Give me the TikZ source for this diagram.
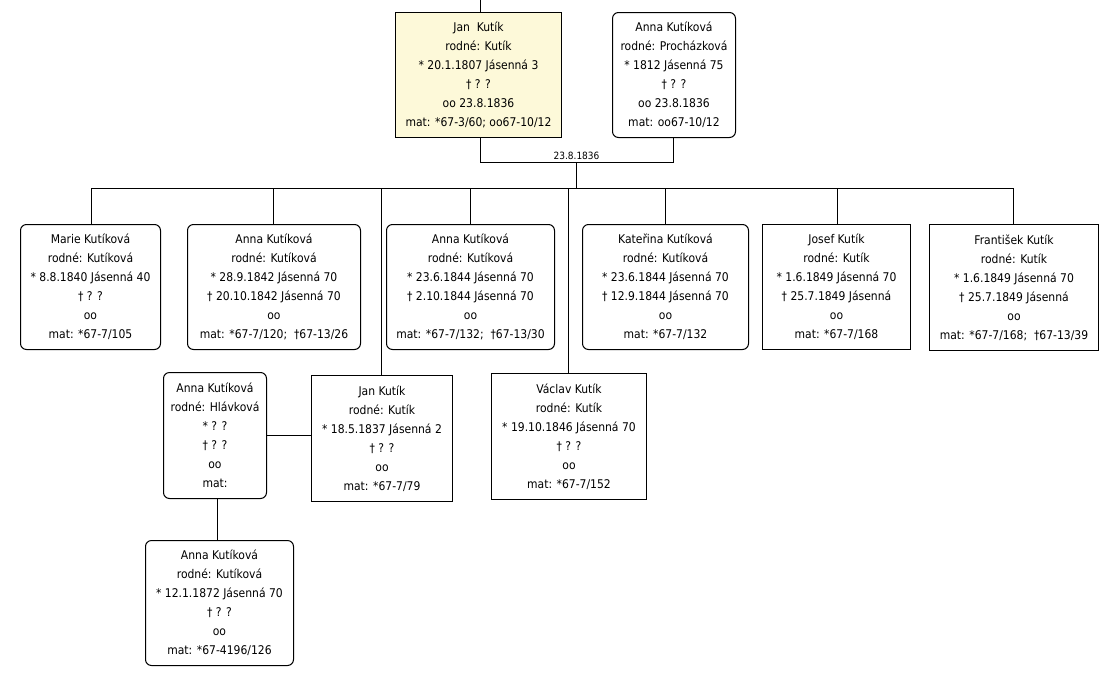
\documentclass[tikz,border=0pt]{standalone}
\usepackage{fontspec}
\setmainfont{DejaVu Sans Condensed}
\definecolor{janfill}{RGB}{253,249,217}
\tikzset{
  person/.style={draw, line width=1pt, inner sep=0pt, align=center, anchor=north west,
    font=\fontsize{12}{19}\selectfont},
  fem/.style={person, rounded corners=6pt},
  male/.style={person},
  link/.style={line width=1pt},
  datelabel/.style={font=\fontsize{10}{11}\selectfont, inner sep=0pt}
}
\begin{document}
\begin{tikzpicture}[x=1pt,y=-1pt]
\useasboundingbox (0,0) rectangle (1119,686);
% parents
\node[male, fill=janfill, minimum width=166pt, minimum height=125pt] (jan) at (395,12)
  {Jan\ \ Kutík\\rodné: Kutík\\* 20.1.1807 Jásenná 3\\† ? ?\\oo 23.8.1836\\mat: *67-3/60; oo67-10/12};
\node[fem, minimum width=123pt, minimum height=125pt] (anna) at (612,12)
  {Anna Kutíková\\rodné: Procházková\\* 1812 Jásenná 75\\† ? ?\\oo 23.8.1836\\mat: oo67-10/12};
% children row
\node[fem, minimum width=140pt, minimum height=125pt] (marie) at (20,224)
  {Marie Kutíková\\rodné: Kutíková\\* 8.8.1840 Jásenná 40\\† ? ?\\oo\\mat: *67-7/105};
\node[fem, minimum width=173pt, minimum height=125pt] (annaa) at (187,224)
  {Anna Kutíková\\rodné: Kutíková\\* 28.9.1842 Jásenná 70\\† 20.10.1842 Jásenná 70\\oo\\mat: *67-7/120;\ \ †67-13/26};
\node[fem, minimum width=168pt, minimum height=125pt] (annac) at (386,224)
  {Anna Kutíková\\rodné: Kutíková\\* 23.6.1844 Jásenná 70\\† 2.10.1844 Jásenná 70\\oo\\mat: *67-7/132;\ \ †67-13/30};
\node[fem, minimum width=166pt, minimum height=125pt] (kat) at (582,224)
  {Kateřina Kutíková\\rodné: Kutíková\\* 23.6.1844 Jásenná 70\\† 12.9.1844 Jásenná 70\\oo\\mat: *67-7/132};
\node[male, minimum width=148pt, minimum height=125pt] (josef) at (762,224)
  {Josef Kutík\\rodné: Kutík\\* 1.6.1849 Jásenná 70\\† 25.7.1849 Jásenná\\oo\\mat: *67-7/168};
\node[male, minimum width=169pt, minimum height=126pt] (frant) at (929,224)
  {František Kutík\\rodné: Kutík\\* 1.6.1849 Jásenná 70\\† 25.7.1849 Jásenná\\oo\\mat: *67-7/168;\ \ †67-13/39};
% second row
\node[fem, minimum width=103pt, minimum height=126pt] (annah) at (163,372)
  {Anna Kutíková\\rodné: Hlávková\\* ? ?\\† ? ?\\oo\\mat:};
\node[male, minimum width=141pt, minimum height=126pt] (janb) at (311,375)
  {Jan Kutík\\rodné: Kutík\\* 18.5.1837 Jásenná 2\\† ? ?\\oo\\mat: *67-7/79};
\node[male, minimum width=155pt, minimum height=126pt] (vaclav) at (491,373)
  {Václav Kutík\\rodné: Kutík\\* 19.10.1846 Jásenná 70\\† ? ?\\oo\\mat: *67-7/152};
\node[fem, minimum width=148pt, minimum height=125pt] (annag) at (145,540)
  {Anna Kutíková\\rodné: Kutíková\\* 12.1.1872 Jásenná 70\\† ? ?\\oo\\mat: *67-4196/126};
% connectors
\coordinate (topend) at (480,0);
\draw[link] (topend) -- (jan.north -| topend);
\coordinate (mj) at (480,162.5);
\coordinate (ma) at (673,162.5);
\draw[link] (jan.south -| mj) -- (mj) -- (ma) -- (anna.south -| ma);
\node[datelabel] (mdate) at (576.5,156) {23.8.1836};
\coordinate (fam) at (576.5,162.5);
\coordinate (famb) at (576.5,188);
\draw[link] (fam) -- (famb);
\coordinate (c1) at (91,188);
\coordinate (c2) at (273.5,188);
\coordinate (c3) at (381.5,188);
\coordinate (c4) at (470.5,188);
\coordinate (c5) at (568.5,188);
\coordinate (c6) at (665,188);
\coordinate (c7) at (837,188);
\coordinate (c8) at (1013.5,188);
\draw[link] (c1) -- (c8);
\draw[link] (c1) -- (c1 |- marie.north);
\draw[link] (c2) -- (c2 |- annaa.north);
\draw[link] (c3) -- (c3 |- janb.north);
\draw[link] (c4) -- (c4 |- annac.north);
\draw[link] (c5) -- (c5 |- vaclav.north);
\draw[link] (c6) -- (c6 |- kat.north);
\draw[link] (c7) -- (c7 |- josef.north);
\draw[link] (c8) -- (c8 |- frant.north);
\draw[link] (annah.east) -- (annah.east -| janb.west);
\coordinate (ah) at (217.5,0);
\draw[link] (annah.south -| ah) -- (annag.north -| ah);
\end{tikzpicture}
\end{document}
